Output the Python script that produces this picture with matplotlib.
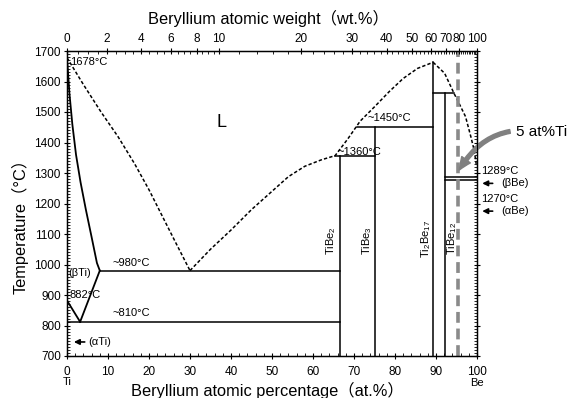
import numpy as np
import matplotlib
matplotlib.use('Agg')
import matplotlib.pyplot as plt

plt.rcParams['font.family'] = ['Liberation Sans', 'Noto Sans CJK JP', 'DejaVu Sans']
plt.rcParams['mathtext.fontset'] = 'custom'
plt.rcParams['mathtext.rm'] = 'Liberation Sans'
plt.rcParams['mathtext.default'] = 'regular'

# liquidus, Ti side (at.% Be, degC)
liq_ti_x = [0, 4, 8.3, 12.5, 16.5, 20, 23, 26.5, 30]
liq_ti_t = [1678, 1590, 1500, 1418, 1330, 1245, 1165, 1072, 980]
# liquidus, middle part up to the Ti2Be17 maximum
liq_mid_x = [30, 35, 40, 45, 50, 54, 58, 62, 65.4, 68.5, 71.5, 75, 78.6, 82, 85.5, 89.3]
liq_mid_t = [980, 1050, 1113, 1180, 1240, 1288, 1322, 1343, 1357, 1412, 1470, 1517, 1567, 1610, 1643, 1663]
# liquidus, Be side
liq_be_x = [89.3, 92.1, 94.4, 95.6, 97.2, 98.5, 99.3, 99.8]
liq_be_t = [1663, 1627, 1561, 1529, 1485, 1419, 1375, 1330]
# solidus / (beta Ti) boundary
sol_ti_x = [0, 0.6, 1.3, 2.2, 3.3, 4.6, 6.0, 7.3, 8]
sol_ti_t = [1678, 1560, 1460, 1360, 1270, 1180, 1090, 1005, 980]
# (beta Ti) lower boundaries
bti_x = [8, 3.2]
bti_t = [980, 812]
ati_x = [0, 3.2]
ati_t = [882, 812]

# compounds: name, composition, top temperature
comp_names = ['TiBe$_2$', 'TiBe$_3$', 'Ti$_2$Be$_{17}$', 'TiBe$_{12}$']
comp_x = [66.6, 75.0, 89.3, 92.1]
comp_top = [1357, 1452, 1663, 1561]
# horizontal invariant lines: temperature, x from, x to
inv_t = [980, 810, 1357, 1452, 1561, 1287, 1277]
inv_x0 = [8, 0, 65.4, 70.8, 89.3, 92.1, 92.1]
inv_x1 = [66.6, 66.6, 75.0, 89.3, 94.4, 100, 100]

ti5_x = 95.4  # 5 at%Ti line

wt_ticks = [0, 2, 4, 6, 8, 10, 20, 30, 40, 50, 60, 70, 80, 100]
wt_minor = list(np.arange(0, 10, 0.5)) + list(range(10, 100, 2))


def wt2at(w):
    w = np.asarray(w, dtype=float)
    a = w / 9.012
    b = (100 - w) / 47.867
    return 100 * a / (a + b)


fig = plt.figure(figsize=(5.72, 3.98), dpi=100)
ax = fig.add_axes([67 / 572, 42 / 398, 410 / 572, 305 / 398])

lw = 1.1
dash = (2.2, 1.4)
ax.plot(liq_ti_x, liq_ti_t, 'k--', lw=lw, dashes=dash)
ax.plot(liq_mid_x, liq_mid_t, 'k--', lw=lw, dashes=dash)
ax.plot(liq_be_x, liq_be_t, 'k--', lw=lw, dashes=dash)
ax.plot(sol_ti_x, sol_ti_t, 'k-', lw=1.3)
ax.plot(bti_x, bti_t, 'k-', lw=1.3)
ax.plot(ati_x, ati_t, 'k-', lw=1.3)
for x, top in zip(comp_x, comp_top):
    ax.plot([x, x], [700, top], 'k-', lw=lw)
for t, x0, x1 in zip(inv_t, inv_x0, inv_x1):
    ax.plot([x0, x1], [t, t], 'k-', lw=lw)
ax.plot([ti5_x, ti5_x], [700, 1700], '--', color='#8a8a8a', lw=2.6, dashes=(3, 1.6))

ax.set_xlim(0, 100)
ax.set_ylim(700, 1700)
ax.set_xticks(np.arange(0, 101, 10))
ax.set_xticks(np.arange(0, 101, 2), minor=True)
ax.set_yticks(np.arange(700, 1701, 100))
ax.set_yticks(np.arange(700, 1701, 10), minor=True)
ax.tick_params(which='major', direction='inout', length=5, width=0.8, labelsize=8.5,
               right=True, pad=2)
ax.tick_params(which='minor', direction='in', length=2.5, width=0.6, right=True)
ax.tick_params(axis='x', which='major', pad=5)
for s in ax.spines.values():
    s.set_linewidth(1.0)

ax2 = ax.twiny()
ax2.set_xlim(0, 100)
ax2.set_xticks(wt2at(wt_ticks))
ax2.set_xticklabels([str(w) for w in wt_ticks])
ax2.set_xticks(wt2at(wt_minor), minor=True)
ax2.tick_params(which='major', direction='inout', length=5, width=0.8, labelsize=8.5, pad=2)
ax2.tick_params(which='minor', direction='in', length=2.5, width=0.6)

fig.text(268 / 572, 1 - 18 / 398, 'Beryllium atomic weight（wt.%）', ha='center', va='center', fontsize=11.8)
fig.text(267 / 572, 1 - 390 / 398, 'Beryllium atomic percentage（at.%）', ha='center', va='center', fontsize=11.8)
fig.text(20 / 572, 1 - 222 / 398, 'Temperature（°C）', ha='center', va='center', fontsize=11.8, rotation=90)

fs = 8
ax.text(0.8, 1665, '1678°C', fontsize=fs, va='center')
ax.text(37.8, 1464, 'L', fontsize=13, ha='center', va='center')
ax.text(11, 1005, '~980°C', fontsize=fs, va='center')
ax.text(0.3, 972, '(βTi)', fontsize=fs, va='center')
ax.text(0.7, 900, '882°C', fontsize=fs, va='center')
ax.text(11, 841, '~810°C', fontsize=fs, va='center')
ax.text(5.1, 746, '(αTi)', fontsize=fs, va='center')
ax.annotate('', xy=(1.0, 746), xytext=(5.0, 746),
            arrowprops=dict(arrowstyle='-|>', lw=1.2, color='k', mutation_scale=8))
ax.text(66.0, 1369, '~1360°C', fontsize=fs, va='center')
ax.text(73.3, 1480, '~1450°C', fontsize=fs, va='center')
ax.text(100.9, 1307, '1289°C', fontsize=fs, va='center', clip_on=False)
ax.text(105.8, 1266, '(βBe)', fontsize=fs, va='center', clip_on=False)
ax.annotate('', xy=(100.6, 1266), xytext=(104.5, 1266), annotation_clip=False,
            arrowprops=dict(arrowstyle='-|>', lw=1.2, color='k', mutation_scale=8))
ax.text(100.9, 1215, '1270°C', fontsize=fs, va='center', clip_on=False)
ax.text(105.8, 1175, '(αBe)', fontsize=fs, va='center', clip_on=False)
ax.annotate('', xy=(100.6, 1175), xytext=(104.5, 1175), annotation_clip=False,
            arrowprops=dict(arrowstyle='-|>', lw=1.2, color='k', mutation_scale=8))

for name, x, xt, yt in zip(comp_names, comp_x, [64.5, 73.1, 87.7, 94.0], [1080, 1080, 1085, 1085]):
    ax.text(xt, yt, name, fontsize=fs, rotation=90, ha='center', va='center')

ax.annotate('5 at%Ti', xy=(95.7, 1310), xytext=(109.4, 1435), fontsize=11,
            va='center', ha='left', annotation_clip=False,
            arrowprops=dict(arrowstyle='simple,head_width=0.7,head_length=0.8,tail_width=0.25',
                            color='#808080', connectionstyle='arc3,rad=0.35',
                            shrinkA=2, shrinkB=0))

ax.text(0, 615, 'Ti', fontsize=fs, ha='center', va='center', clip_on=False)
ax.text(100, 610, 'Be', fontsize=fs, ha='center', va='center', clip_on=False)

fig.savefig('out.png', dpi=100)
